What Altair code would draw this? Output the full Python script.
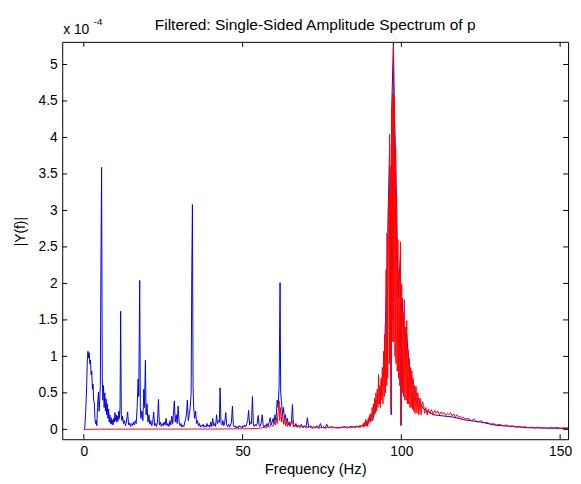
import altair as alt
import pandas as pd

# ---- data (|Y(f)| in units of 1e-4) ----
blue_0_12 = [(0.0,0.0),(0.3,0.02),(0.6,0.25),(0.9,0.6),(1.1,0.95),(1.3,1.07),(1.5,0.98),(1.7,1.05),(1.9,0.9),(2.1,0.95),
             (2.3,0.75),(2.5,0.8),(2.7,0.55),(2.9,0.62),(3.1,0.4),(3.3,0.36),(3.5,0.15),(3.7,0.08),(3.9,0.12),(4.1,0.05),
             (4.3,0.3),(4.6,0.51),(4.8,0.25),(5.0,0.4),(5.2,0.6),(5.4,2.36),(5.6,3.59),(5.8,0.72),(6.0,0.4),(6.2,0.6),
             (6.4,0.3),(6.6,0.5),(6.8,0.25),(7.0,0.42),(7.2,0.2),(7.4,0.35),(7.6,0.15),(7.8,0.28),(8.0,0.1),(8.2,0.2),
             (8.4,0.08),(8.6,0.16),(8.8,0.07),(9.0,0.13),(9.2,0.06),(9.4,0.15),(9.6,0.1),(9.8,0.23),(10.0,0.12),(10.2,0.2),
             (10.4,0.1),(10.6,0.18),(10.8,0.12),(11.0,0.25),(11.2,0.15),(11.4,0.3),(11.6,1.62),(11.8,0.2)]
blue_12_30 = [(12.0,0.12),(12.2,0.18),(12.5,0.08),(12.8,0.12),(13.1,0.05),(13.4,0.1),(13.8,0.24),(14.1,0.06),(14.4,0.09),
              (14.7,0.04),(15.0,0.08),(15.3,0.05),(15.6,0.1),(15.9,0.06),(16.2,0.12),(16.5,0.08),(16.8,0.3),(17.1,0.69),
              (17.3,0.45),(17.6,2.04),(17.8,0.3),(18.0,0.15),(18.3,0.25),(18.6,0.12),(18.9,0.55),(19.1,0.3),(19.4,0.95),
              (19.6,0.2),(19.9,0.35),(20.2,0.1),(20.5,0.2),(20.8,0.07),(21.1,0.12),(21.4,0.05),(21.7,0.1),(22.0,0.24),
              (22.3,0.05),(22.6,0.08),(22.9,0.04),(23.2,0.1),(23.5,0.41),(23.8,0.06),(24.1,0.1),(24.4,0.04),(24.7,0.08),
              (25.0,0.05),(25.3,0.1),(25.6,0.06),(25.9,0.15),(26.2,0.05),(26.5,0.08),(26.8,0.04),(27.1,0.12),(27.4,0.06),
              (27.7,0.18),(28.0,0.08),(28.5,0.39),(28.8,0.1),(29.1,0.2),(29.4,0.08),(29.7,0.32)]
blue_30_48 = [(30.0,0.1),(30.3,0.05),(30.6,0.08),(30.9,0.03),(31.2,0.06),(31.5,0.04),(31.8,0.1),(32.1,0.15),(32.4,0.25),
              (32.6,0.4),(32.9,0.12),(33.2,0.2),(33.5,0.3),(33.8,0.5),(34.0,2.16),(34.2,3.08),(34.4,0.6),(34.6,0.3),
              (34.9,0.15),(35.2,0.25),(35.5,0.08),(35.8,0.12),(36.1,0.05),(36.4,0.08),(36.7,0.03),(37.0,0.06),(37.3,0.04),
              (37.6,0.07),(37.9,0.03),(38.2,0.05),(38.5,0.03),(38.8,0.08),(39.1,0.04),(39.4,0.06),(39.7,0.03),(40.0,0.1),
              (40.3,0.04),(40.6,0.15),(40.9,0.05),(41.2,0.08),(41.5,0.04),(41.8,0.2),(42.1,0.08),(42.4,0.12),(42.7,0.1),
              (42.9,0.57),(43.2,0.08),(43.5,0.06),(43.8,0.12),(44.1,0.05),(44.4,0.1),(44.7,0.23),(45.0,0.06),(45.3,0.04),
              (45.6,0.07),(45.9,0.03),(46.2,0.06),(46.5,0.1),(46.8,0.32),(47.1,0.05),(47.4,0.03),(47.7,0.05)]
blue_48_70 = [(48.0,0.02),(48.3,0.04),(48.6,0.02),(48.9,0.05),(49.2,0.03),(49.5,0.04),(49.8,0.02),(50.1,0.05),(50.4,0.03),
              (50.7,0.06),(51.0,0.04),(51.3,0.08),(51.6,0.12),(51.9,0.26),(52.2,0.06),(52.5,0.1),(52.8,0.08),(53.1,0.45),
              (53.4,0.06),(53.7,0.04),(54.0,0.07),(54.3,0.05),(54.6,0.08),(54.9,0.19),(55.2,0.05),(55.5,0.04),(55.8,0.08),
              (56.2,0.2),(56.5,0.05),(56.8,0.03),(57.1,0.06),(57.4,0.04),(57.7,0.08),(58.0,0.05),(58.4,0.1),(58.7,0.16),
              (59.0,0.06),(59.3,0.1),(59.6,0.15),(59.9,0.08),(60.2,0.2),(60.5,0.12),(60.9,0.4),(61.2,0.3),(61.5,0.6),
              (61.8,2.01),(62.0,0.5),(62.3,0.35),(62.6,0.2),(62.9,0.3),(63.2,0.12),(63.5,0.2),(63.8,0.08),(64.1,0.15),
              (64.4,0.06),(64.7,0.1),(65.0,0.05),(65.4,0.12),(65.7,0.34),(66.0,0.06),(66.4,0.04),(66.8,0.08),(67.2,0.03),
              (67.6,0.06),(68.0,0.04),(68.5,0.07),(69.0,0.03),(69.5,0.05)]
blue_70_152 = [(70.0,0.03),(70.4,0.16),(70.8,0.03),(71.5,0.05),(72.0,0.02),(72.5,0.04),(73.0,0.02),(73.5,0.05),(74.0,0.02),
               (74.5,0.08),(75.0,0.02),(75.5,0.04),(76.0,0.02),(76.5,0.07),(77.0,0.02),(78.0,0.04),(79.0,0.02),(80.0,0.03),
               (81.0,0.02),(82.0,0.04),(83.0,0.02),(84.0,0.04),(85.0,0.03),(86.0,0.04),(87.0,0.03),(88.0,0.06),(89.0,0.05),
               (90.0,0.15),(91.0,0.12),(92.0,0.4),(93.0,0.35),(94.0,0.7),(94.5,0.8),(95.5,2.2),(96.3,3.9),(96.8,0.2),
               (96.9,4.3),(97.5,5.3),(97.8,4.4),(98.3,3.5),(99.0,1.8),(99.7,2.4),(99.9,0.05),(100.2,1.8),(101.0,1.2),
               (101.7,1.3),(102.5,0.8),(103.2,0.7),(104.6,0.5),(106.0,0.35),(107.0,0.28),(110.0,0.2),(116.0,0.17),
               (120.0,0.13),(125.0,0.1),(130.0,0.055),(135.0,0.04),(140.0,0.022),(145.0,0.018),(150.0,0.014),(152.5,0.015)]

red_0_88 = [(0,0.0),(5,0.003),(10,0.003),(20,0.004),(30,0.004),(40,0.005),(45,0.006),(50,0.008),(53,0.01),(55,0.015),
            (56,0.02),(57,0.03),(57.5,0.02),(58,0.05),(58.5,0.03),(59,0.07),(59.5,0.04),(60,0.1),(60.3,0.06),(60.6,0.15),
            (60.9,0.08),(61.2,0.25),(61.5,0.39),(61.7,0.12),(62.0,0.3),(62.3,0.1),(62.6,0.2),(62.9,0.07),(63.2,0.15),
            (63.5,0.05),(63.8,0.12),(64.1,0.04),(64.5,0.1),(64.9,0.04),(65.3,0.08),(65.7,0.12),(66.1,0.03),(66.5,0.06),
            (67,0.03),(67.5,0.05),(68,0.02),(68.5,0.05),(69,0.02),(69.5,0.04),(70,0.02),(71,0.035),(72,0.015),(73,0.03),
            (74,0.015),(75,0.03),(76,0.015),(77,0.03),(78,0.02),(79,0.03),(80,0.015),(81,0.03),(82,0.02),(83,0.035),
            (84,0.02),(85,0.04),(85.5,0.02),(86,0.05),(86.5,0.025),(87,0.06),(87.5,0.03)]
red_88_107 = [(88.0,0.08),(88.2,0.03),(88.4,0.1),(88.6,0.05),(88.8,0.14),(89.0,0.06),(89.2,0.12),(89.4,0.04),(89.6,0.16),
              (89.8,0.08),(90.0,0.2),(90.2,0.1),(90.4,0.22),(90.6,0.12),(90.8,0.3),(91.0,0.15),(91.2,0.35),(91.4,0.2),
              (91.6,0.43),(91.8,0.22),(92.0,0.5),(92.2,0.25),(92.4,0.55),(92.6,0.3),(92.8,0.75),(93.0,0.35),(93.2,0.6),
              (93.4,0.3),(93.6,0.7),(93.8,0.4),(94.0,0.85),(94.2,0.35),(94.4,1.07),(94.6,0.45),(94.8,1.3),(95.0,0.5),
              (95.2,2.19),(95.4,0.6),(95.5,2.69),(95.7,0.7),(95.9,3.0),(96.1,3.23),(96.2,0.9),(96.3,4.04),(96.5,1.0),
              (96.7,3.6),(96.8,0.26),(96.9,4.40),(97.1,1.2),(97.3,4.6),(97.4,1.5),(97.5,5.27),(97.6,1.2),(97.8,4.55),
              (98.0,1.0),(98.2,3.86),(98.3,0.9),(98.5,3.2),(98.7,0.8),(98.9,2.6),(99.1,0.7),(99.3,2.2),(99.5,0.6),
              (99.7,2.57),(99.9,0.07),(100.1,1.99),(100.3,0.5),(100.5,1.6),(100.7,0.45),(100.9,1.78),(101.1,0.4),
              (101.3,1.4),(101.5,0.4),(101.7,1.49),(101.9,0.35),(102.1,1.1),(102.3,0.35),(102.5,0.97),(102.7,0.3),
              (102.9,0.85),(103.1,0.3),(103.3,0.8),(103.5,0.28),(103.7,0.7),(103.9,0.25),(104.1,0.6),(104.3,0.22),
              (104.6,0.59),(104.9,0.22),(105.2,0.5),(105.5,0.2),(105.9,0.43),(106.2,0.2),(106.6,0.38)]
red_107_152 = [(107.0,0.34),(107.3,0.22),(107.7,0.3),(108.1,0.2),(108.5,0.28),(109,0.22),(109.5,0.27),(110,0.2),(110.5,0.26),
               (111,0.22),(111.5,0.25),(112,0.2),(112.5,0.24),(113,0.21),(113.5,0.23),(114,0.19),(114.5,0.22),(115,0.2),
               (115.5,0.23),(116,0.18),(116.5,0.21),(117,0.17),(117.5,0.2),(118,0.16),(118.5,0.18),(119,0.15),(119.5,0.17),
               (120,0.14),(121,0.15),(122,0.12),(123,0.14),(124,0.1),(125,0.12),(126,0.09),(127,0.1),(128,0.07),(129,0.08),
               (130,0.06),(131,0.07),(132,0.05),(133,0.06),(134,0.04),(135,0.05),(136,0.03),(137,0.04),(138,0.03),
               (139,0.035),(140,0.025),(141,0.03),(142,0.02),(143,0.03),(144,0.02),(145,0.025),(146,0.015),(147,0.025),
               (148,0.02),(149,0.025),(150,0.015),(151,0.02),(152.5,0.02)]

x_ticks = [0, 50, 100, 150]
y_ticks = [0, 0.5, 1, 1.5, 2, 2.5, 3, 3.5, 4, 4.5, 5]
title_text = "Filtered: Single-Sided Amplitude Spectrum of p"

blue = pd.DataFrame(blue_0_12 + blue_12_30 + blue_30_48 + blue_48_70 + blue_70_152, columns=["f", "v"])
red = pd.DataFrame(red_0_88 + red_88_107 + red_107_152, columns=["f", "v"])
xt = pd.DataFrame({"f": x_ticks})
yt = pd.DataFrame({"v": y_ticks})
one = pd.DataFrame({"a": [0]})

W, H = 513, 403
FONT = "Liberation Sans"
TL = 5

xs = alt.Scale(domain=[-6.8, 152.5], nice=False, zero=False)
ys = alt.Scale(domain=[-0.135, 5.31], nice=False, zero=False)
xaxis = alt.Axis(values=x_ticks, format="d", ticks=False, domain=False, grid=False,
                 labelFont=FONT, labelFontSize=14, labelColor="black", labelPadding=6,
                 title="Frequency (Hz)", titleFont=FONT, titleFontSize=15, titleFontWeight="normal",
                 titleColor="black", titlePadding=3)
yaxis = alt.Axis(values=y_ticks, format="~g", ticks=False, domain=False, grid=False,
                 labelFont=FONT, labelFontSize=14, labelColor="black", labelPadding=5,
                 title="|Y(f)|", titleFont=FONT, titleFontSize=14, titleFontWeight="normal",
                 titleColor="black", titleX=-35, titleY=192)
X = alt.X("f:Q", scale=xs, axis=xaxis)
Y = alt.Y("v:Q", scale=ys, axis=yaxis)

blue_line = alt.Chart(blue).mark_line(color="#0000ee", strokeWidth=1, clip=True).encode(x=X, y=Y)
red_line = alt.Chart(red).mark_line(color="#ff0000", strokeWidth=1, clip=True).encode(x=X, y=Y)

xt_bot = alt.Chart(xt).mark_rule(color="black").encode(x=X, y=alt.value(H), y2=alt.value(H - TL))
xt_top = alt.Chart(xt).mark_rule(color="black").encode(x=X, y=alt.value(0), y2=alt.value(TL))
yt_left = alt.Chart(yt).mark_rule(color="black").encode(y=Y, x=alt.value(0), x2=alt.value(TL))
yt_right = alt.Chart(yt).mark_rule(color="black").encode(y=Y, x=alt.value(W), x2=alt.value(W - TL))

title_mark = alt.Chart(one).mark_text(align="center", baseline="alphabetic", font=FONT, fontSize=15.7,
                                      color="black").encode(x=alt.value(W / 2), y=alt.value(-12),
                                                            text=alt.value(title_text))
exp_base = alt.Chart(one).mark_text(align="left", baseline="alphabetic", font=FONT, fontSize=14,
                                    color="black").encode(x=alt.value(1), y=alt.value(-8), text=alt.value("x 10"))
exp_pow = alt.Chart(one).mark_text(align="left", baseline="alphabetic", font=FONT, fontSize=10,
                                   color="black").encode(x=alt.value(32), y=alt.value(-17), text=alt.value("-4"))

chart = alt.layer(blue_line, red_line, xt_bot, xt_top, yt_left, yt_right, title_mark, exp_base, exp_pow).properties(
    width=W, height=H,
    autosize=alt.AutoSizeParams(type="none"),
    padding={"left": 55, "top": 31, "right": 5, "bottom": 37},
    background="white",
).configure_view(stroke="black", strokeWidth=1)

chart.save("out.html", embed_options={"renderer": "svg", "actions": False})
